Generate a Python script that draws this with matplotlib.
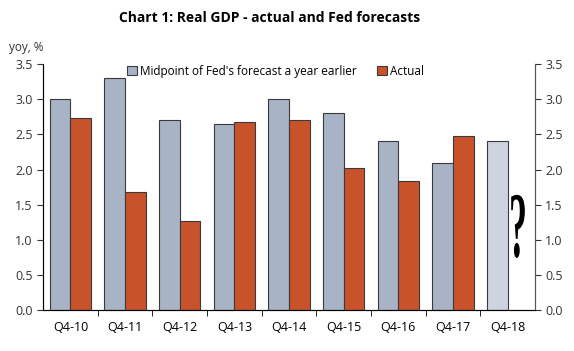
import matplotlib.pyplot as plt
import numpy as np
from matplotlib.textpath import TextPath
from matplotlib.patches import PathPatch
from matplotlib.font_manager import FontProperties
from matplotlib.transforms import Affine2D

plt.rcParams['font.family'] = ['Open Sans', 'DejaVu Sans']

quarters = ['Q4-10', 'Q4-11', 'Q4-12', 'Q4-13', 'Q4-14', 'Q4-15', 'Q4-16', 'Q4-17', 'Q4-18']
fed_forecast = [3.0, 3.3, 2.7, 2.65, 3.0, 2.8, 2.4, 2.1, 2.4]
actual = [2.73, 1.68, 1.27, 2.67, 2.7, 2.02, 1.83, 2.48, np.nan]

fc_color = '#a8b3c6'
fc_light = '#cdd4e0'
act_color = '#c8532b'

fig = plt.figure(figsize=(5.74, 3.51), dpi=100)
ax = fig.add_axes([0.075, 0.117, 0.857, 0.7])

x = np.arange(len(quarters))
w = 0.38
fc_colors = [fc_color] * (len(quarters) - 1) + [fc_light]
ax.bar(x - w / 2, fed_forecast, w, color=fc_colors, edgecolor='#3a3a3a', linewidth=0.8,
       label="Midpoint of Fed's forecast a year earlier")
ax.bar(x + w / 2, actual, w, color=act_color, edgecolor='#3a3a3a', linewidth=0.8,
       label='Actual')

ax.set_xlim(-0.5, len(quarters) - 0.5)
ax.set_ylim(0, 3.5)
ax.set_yticks(np.arange(0, 3.6, 0.5))
ax.set_yticklabels([f'{v:.1f}' for v in np.arange(0, 3.6, 0.5)])
ax.set_xticks(x)
ax.set_xticklabels(quarters)
ax.set_xticks(np.arange(0.5, len(quarters) - 1, 1), minor=True)
ax.tick_params(axis='x', which='major', length=0, pad=8, labelsize=9)
ax.tick_params(axis='x', which='minor', length=4, direction='out')
ax.tick_params(axis='y', length=4, labelsize=9, colors='#333333', labelcolor='#333333')

ax.spines['top'].set_visible(False)
for s in ['left', 'right', 'bottom']:
    ax.spines[s].set_color('#555555')

ax2 = ax.twinx()
ax2.set_ylim(0, 3.5)
ax2.set_yticks(np.arange(0, 3.6, 0.5))
ax2.set_yticklabels([f'{v:.1f}' for v in np.arange(0, 3.6, 0.5)])
ax2.tick_params(axis='y', length=4, labelsize=9, colors='#333333', labelcolor='#333333')
ax2.spines['top'].set_visible(False)
ax2.spines['right'].set_color('#555555')

ax.legend(loc='upper left', bbox_to_anchor=(0.15, 1.04), ncol=2, frameon=False,
          fontsize=8.5, handlelength=0.8, handleheight=0.8, handletextpad=0.3,
          columnspacing=1.7)

# tall, narrow question mark next to the Q4-18 bar
qpath = TextPath((0, 0), '?', size=1, prop=FontProperties(family='Liberation Serif', weight='bold'))
v = qpath.vertices
qw = v[:, 0].max() - v[:, 0].min()
qh = v[:, 1].max() - v[:, 1].min()
sx, sy = 0.29 / qw, 0.9 / qh
tr = Affine2D().translate(-v[:, 0].min() - qw / 2, -v[:, 1].min()).scale(sx, sy).translate(8.17, 0.74)
ax.add_patch(PathPatch(tr.transform_path(qpath), facecolor='black', edgecolor='none', clip_on=False))

fig.text(0.47, 0.95, 'Chart 1: Real GDP - actual and Fed forecasts', ha='center', va='center',
         fontsize=10, fontweight='bold')
fig.text(0.015, 0.865, 'yoy, %', fontsize=8.5, color='#333333', va='center')

fig.savefig('out.png', dpi=100)
